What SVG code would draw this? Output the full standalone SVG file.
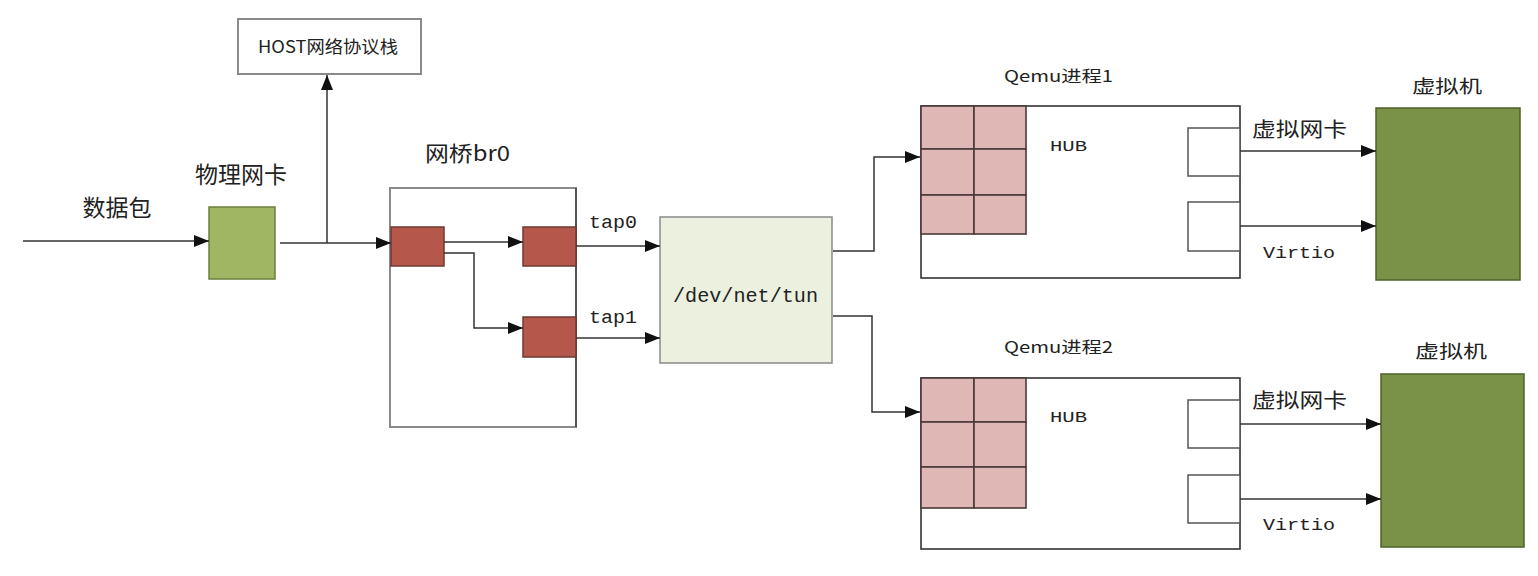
<svg xmlns="http://www.w3.org/2000/svg" width="1538" height="576" viewBox="0 0 1538 576">
<style>
.t{font-family:"Liberation Mono","Noto Sans CJK SC",monospace;fill:#222;}
.c{font-family:"Noto Sans CJK SC","Liberation Sans",sans-serif;fill:#222;}
.box{fill:#fff;stroke:#8a8a8a;stroke-width:2;}
.qbox{fill:#fff;stroke:#333;stroke-width:1.6;}
.red{fill:#b5574b;stroke:#6e3a33;stroke-width:1.5;}
.pink{fill:#dfb8b5;stroke:#4a3a3a;stroke-width:1.6;}
.port{fill:#fff;stroke:#555;stroke-width:1.5;}
.vm{fill:#7a9148;stroke:#4f6228;stroke-width:1.5;}
.conn{fill:none;stroke:#333;stroke-width:1.5;marker-end:url(#ah);}
</style>
<defs>
<marker id="ah" markerUnits="userSpaceOnUse" markerWidth="16" markerHeight="12" refX="15" refY="6" orient="auto">
<path d="M0,0 L15,6 L0,12 Z" fill="#111"/>
</marker>
</defs>
<rect width="1538" height="576" fill="#fff"/>

<g id="host-stack">
<rect class="box" x="238" y="19" width="183" height="55"/>
<text class="c" x="258" y="53" font-size="17" textLength="140" lengthAdjust="spacingAndGlyphs">HOST网络协议栈</text>
</g>

<g id="packet-label">
<text class="c" x="117" y="216" font-size="23" text-anchor="middle">数据包</text>
</g>

<g id="phys-nic">
<text class="c" x="241" y="183" font-size="23" text-anchor="middle">物理网卡</text>
<rect x="209" y="207" width="66" height="72" fill="#9fb763" stroke="#6b7f3e" stroke-width="1.5"/>
</g>

<g id="bridge-br0">
<text class="c" x="425" y="161" font-size="21" textLength="85" lengthAdjust="spacingAndGlyphs">网桥br0</text>
<rect class="box" x="390" y="188" width="186" height="239"/>
<line x1="576" y1="188" x2="576" y2="427" stroke="#444" stroke-width="1.6"/>
<rect class="red" x="391" y="227" width="53" height="39"/>
</g>

<g id="tap0">
<rect class="red" x="523" y="227" width="53" height="39"/>
<text class="t" x="589" y="228" font-size="18" textLength="48" lengthAdjust="spacingAndGlyphs">tap0</text>
</g>

<g id="tap1">
<rect class="red" x="523" y="317" width="53" height="40"/>
<text class="t" x="589" y="323" font-size="18" textLength="48" lengthAdjust="spacingAndGlyphs">tap1</text>
</g>

<g id="tun">
<rect x="660" y="217" width="172" height="146" fill="#ebf0df" stroke="#8a8a8a" stroke-width="1.5"/>
<text class="t" x="673" y="302" font-size="20" textLength="145" lengthAdjust="spacingAndGlyphs">/dev/net/tun</text>
</g>

<g id="qemu1">
<text class="c" x="1004" y="82" font-size="16" textLength="109" lengthAdjust="spacingAndGlyphs">Qemu进程1</text>
<rect class="qbox" x="921" y="106" width="319" height="172"/>
<rect class="pink" x="921" y="106" width="53" height="43"/>
<rect class="pink" x="974" y="106" width="52" height="43"/>
<rect class="pink" x="921" y="149" width="53" height="46"/>
<rect class="pink" x="974" y="149" width="52" height="46"/>
<rect class="pink" x="921" y="195" width="53" height="39"/>
<rect class="pink" x="974" y="195" width="52" height="39"/>
<text class="t" x="1050" y="151" font-size="15" textLength="37" lengthAdjust="spacingAndGlyphs">HUB</text>
<rect class="port" x="1188" y="128" width="52" height="48"/>
<rect class="port" x="1188" y="202" width="52" height="49"/>
<text class="c" x="1252" y="137" font-size="20" textLength="95" lengthAdjust="spacingAndGlyphs">虚拟网卡</text>
<text class="t" x="1263" y="258" font-size="16" textLength="72" lengthAdjust="spacingAndGlyphs">Virtio</text>
</g>

<g id="vm1">
<text class="c" x="1412" y="93" font-size="18" textLength="70" lengthAdjust="spacingAndGlyphs">虚拟机</text>
<rect class="vm" x="1376" y="108" width="144" height="172"/>
</g>

<g id="qemu2">
<text class="c" x="1004" y="353" font-size="16" textLength="109" lengthAdjust="spacingAndGlyphs">Qemu进程2</text>
<rect class="qbox" x="921" y="378" width="319" height="171"/>
<rect class="pink" x="921" y="378" width="53" height="44"/>
<rect class="pink" x="974" y="378" width="52" height="44"/>
<rect class="pink" x="921" y="422" width="53" height="45"/>
<rect class="pink" x="974" y="422" width="52" height="45"/>
<rect class="pink" x="921" y="467" width="53" height="41"/>
<rect class="pink" x="974" y="467" width="52" height="41"/>
<text class="t" x="1050" y="422" font-size="15" textLength="37" lengthAdjust="spacingAndGlyphs">HUB</text>
<rect class="port" x="1188" y="400" width="52" height="48"/>
<rect class="port" x="1188" y="475" width="52" height="48"/>
<text class="c" x="1252" y="408" font-size="20" textLength="95" lengthAdjust="spacingAndGlyphs">虚拟网卡</text>
<text class="t" x="1263" y="530" font-size="16" textLength="72" lengthAdjust="spacingAndGlyphs">Virtio</text>
</g>

<g id="vm2">
<text class="c" x="1415" y="358" font-size="18" textLength="72" lengthAdjust="spacingAndGlyphs">虚拟机</text>
<rect class="vm" x="1381" y="374" width="143" height="173"/>
</g>

<g id="connectors">
<path class="conn" d="M23,241 H209"/>
<path class="conn" d="M280,243 H391"/>
<path class="conn" d="M327,243 V75"/>
<path class="conn" d="M444,242 H523"/>
<path class="conn" d="M444,253 H474 V328 H523"/>
<path class="conn" d="M576,246 H660"/>
<path class="conn" d="M576,338 H660"/>
<path class="conn" d="M833,251 H874 V157 H920"/>
<path class="conn" d="M833,316 H872 V412 H920"/>
<path class="conn" d="M1240,151 H1376"/>
<path class="conn" d="M1240,226 H1376"/>
<path class="conn" d="M1240,424 H1381"/>
<path class="conn" d="M1240,499 H1381"/>
</g>
</svg>
